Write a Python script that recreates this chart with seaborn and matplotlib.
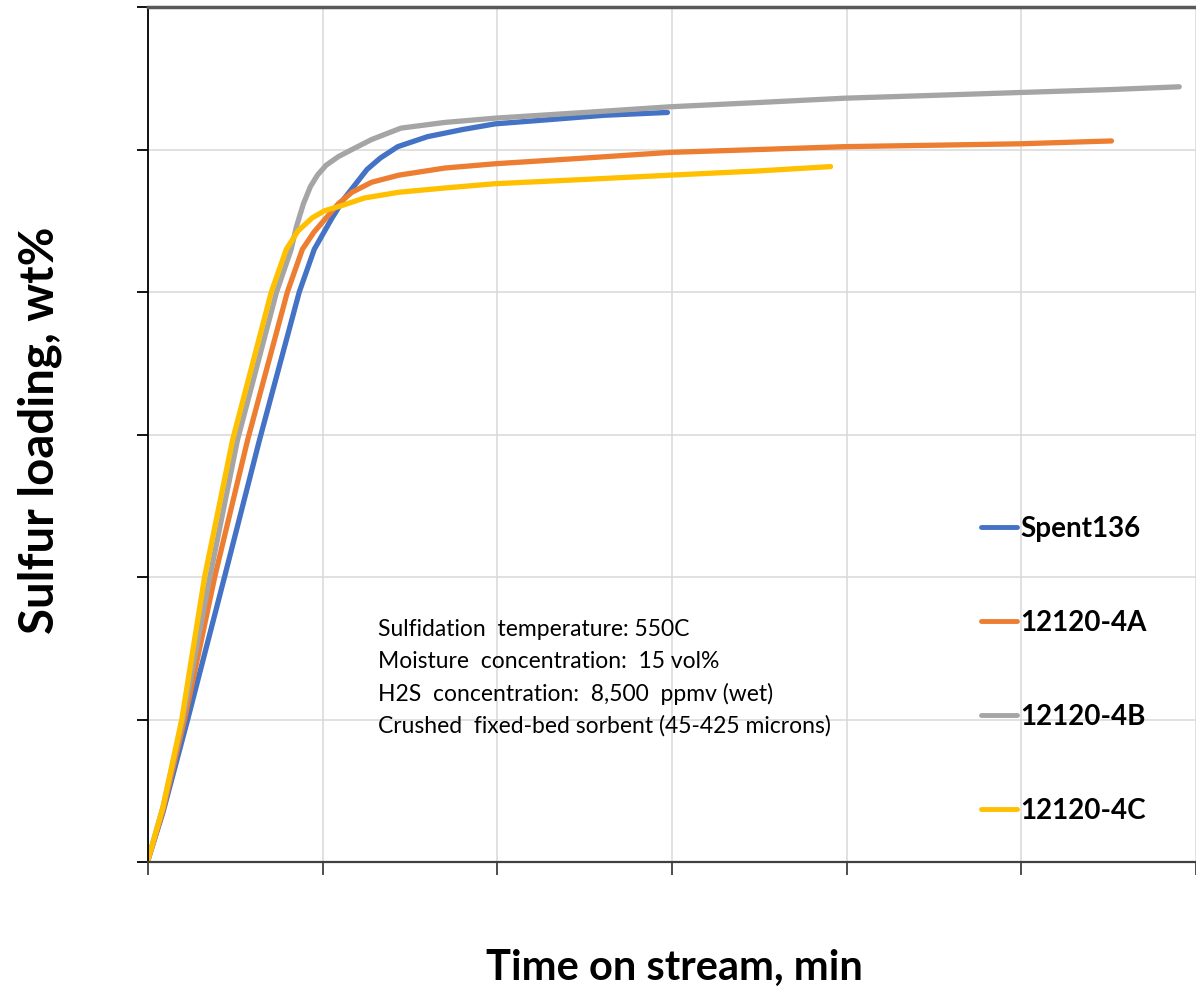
import numpy as np
import pandas as pd
import seaborn as sns
import matplotlib
matplotlib.use("Agg")
import matplotlib.pyplot as plt

# ---------------- data ----------------
series_names = ["Spent136", "12120-4A", "12120-4B", "12120-4C"]
series_colors = ["#4472C4", "#ED7D31", "#A5A5A5", "#FFC000"]

spent136_t = [0, 4.3, 11.4, 21.9, 31.9, 43.3, 47.6, 52.7, 56.0, 59.5, 62.7, 66.5, 71.5,
              80.0, 90.0, 99.4, 115.0, 130.5, 148.7]
spent136_y = [0.07, 1.75, 5.02, 10.0, 14.8, 20.0, 21.5, 22.6, 23.25, 23.8, 24.3, 24.7, 25.1,
              25.45, 25.7, 25.9, 26.05, 26.2, 26.3]

a4_t = [0, 4.3, 10.5, 19.1, 28.5, 39.9, 44.2, 47.5, 51.0, 54.5, 58.4, 64.0, 71.8, 85.0,
        99.4, 125.0, 149.6, 175.0, 199.4, 225.0, 249.6, 275.8]
a4_y = [0.07, 1.82, 5.02, 10.0, 14.8, 20.0, 21.5, 22.1, 22.6, 23.1, 23.5, 23.85, 24.1, 24.35,
        24.5, 24.7, 24.9, 25.0, 25.1, 25.15, 25.2, 25.3]

b4_t = [0, 4.3, 10.0, 17.7, 25.6, 36.8, 41.0, 42.5, 44.5, 46.5, 48.5, 51.0, 54.5, 58.4, 64.0,
        72.4, 85.0, 99.4, 125.0, 149.6, 175.0, 199.4, 225.0, 249.6, 275.0, 295.2]
b4_y = [0.07, 1.93, 5.02, 10.0, 14.8, 20.0, 21.5, 22.3, 23.1, 23.7, 24.1, 24.45, 24.75, 25.0, 25.35,
        25.75, 25.95, 26.1, 26.3, 26.5, 26.65, 26.8, 26.9, 27.0, 27.1, 27.2]

c4_t = [0, 4.3, 9.7, 16.2, 24.2, 35.3, 39.6, 43.0, 47.0, 50.5, 54.7, 62.0, 71.8, 85.0,
        99.4, 125.0, 149.6, 175.0, 195.4]
c4_y = [0.07, 1.93, 5.02, 10.0, 14.8, 20.0, 21.5, 22.15, 22.6, 22.85, 23.0, 23.3, 23.5, 23.65,
        23.8, 23.95, 24.1, 24.25, 24.4]

annotation_lines = ["Sulfidation  temperature: 550C",
                    "Moisture  concentration:  15 vol%",
                    "H2S  concentration:  8,500  ppmv (wet)",
                    "Crushed  fixed-bed sorbent (45-425 microns)"]

x_label = "Time on stream, min"
y_label = "Sulfur loading, wt%"

# ---------------- build long-form frame ----------------
frames = []
for name, t, y in zip(series_names,
                      [spent136_t, a4_t, b4_t, c4_t],
                      [spent136_y, a4_y, b4_y, c4_y]):
    frames.append(pd.DataFrame({"series": name, "time": t, "loading": y}))
df = pd.concat(frames, ignore_index=True)

# ---------------- style ----------------
sns.set_theme(style="white")
plt.rcParams["font.family"] = ["Lato", "DejaVu Sans"]
plt.rcParams["text.color"] = "black"

W, H = 1196, 993
fig = plt.figure(figsize=(W / 100, H / 100), dpi=100)
ax = fig.add_axes([148 / W, (H - 862) / H, (W - 148) / W, (862 - 7) / H])

palette = dict(zip(series_names, series_colors))
sns.lineplot(data=df, x="time", y="loading", hue="series", hue_order=series_names,
             palette=palette, estimator=None, sort=False, linewidth=3.8, ax=ax,
             legend=False)
for ln in ax.lines:
    ln.set_solid_joinstyle("round")
    ln.set_solid_capstyle("round")

ax.set_xlim(0, (W - 148) / 175.5 * 50)
ax.set_ylim(0, 30)
ax.set_xticks(np.arange(0, 301, 50))
ax.set_yticks(np.arange(0, 31, 5))
ax.set_xticklabels([])
ax.set_yticklabels([])
ax.set_xlabel("")
ax.set_ylabel("")
ax.grid(True, color="#d9d9d9", linewidth=1.1)
ax.set_axisbelow(True)

ax.tick_params(axis="y", which="major", direction="out", length=8, width=1.3,
               color="black", left=True)
ax.tick_params(axis="x", which="major", direction="out", length=9, width=1.3,
               color="#404040", bottom=True)

ax.spines["right"].set_visible(False)
ax.spines["left"].set_color("black")
ax.spines["left"].set_linewidth(1.3)
ax.spines["bottom"].set_color("#404040")
ax.spines["bottom"].set_linewidth(1.6)
ax.spines["top"].set_color("#595959")
ax.spines["top"].set_linewidth(2.5)

# legend
handles = [plt.Line2D([], [], color=c, linewidth=3.5) for c in series_colors]
leg = ax.legend(handles, series_names, loc="center left",
                bbox_to_anchor=((970 - 148) / (W - 148), (862 - 670) / (862 - 7)),
                frameon=False, handlelength=1.3, handletextpad=0.1,
                labelspacing=2.45, borderaxespad=0,
                prop={"family": ["Lato", "DejaVu Sans"], "weight": "bold", "size": 20})
for t in leg.get_texts():
    t.set_color("black")

# annotation block
y0 = 630
for i, line in enumerate(annotation_lines):
    fig.text(378 / W, 1 - (y0 + i * 32) / H, line, ha="left", va="center",
             fontsize=16.5, color="black")

# axis titles
fig.text(674 / W, 1 - 968 / H, x_label, ha="center", va="center",
         fontsize=30, fontweight="bold", color="black")
fig.text(40 / W, 1 - 430 / H, y_label, ha="center", va="center", rotation=90,
         fontsize=34, fontweight="bold", color="black")

fig.savefig("out.png", dpi=100)
